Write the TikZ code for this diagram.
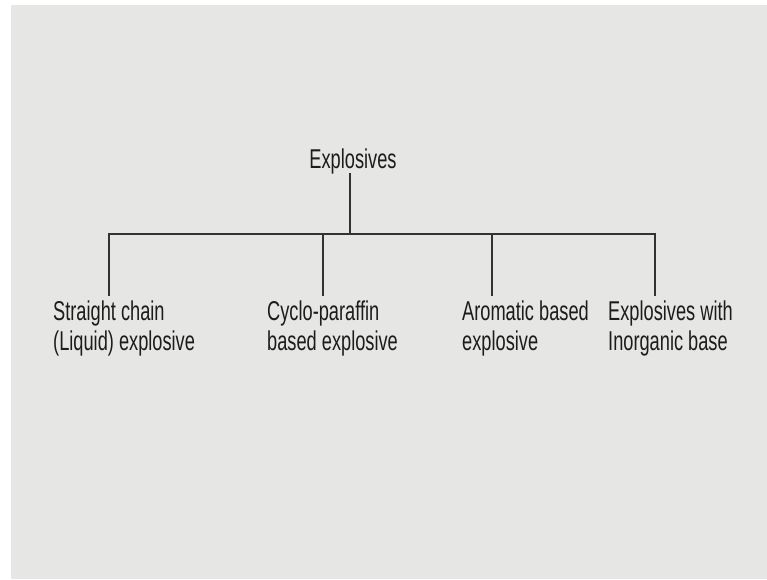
\documentclass[tikz,border=0pt]{standalone}
\usepackage{fontspec}
\setmainfont[FakeStretch=0.67]{Liberation Sans}
\definecolor{slidebg}{RGB}{230,231,228}
\definecolor{ink}{RGB}{28,28,28}

\begin{document}
\begin{tikzpicture}[x=1pt,y=-1pt,
	leaf/.style={inner xsep=0pt, inner ysep=6pt, align=left, anchor=north west, text=ink, font=\fontsize{27.2}{30}\selectfont},
	branch/.style={draw=ink!90, line width=1.6pt, line cap=rect}]
	\useasboundingbox (0,0) rectangle (767,579);
	\fill[slidebg] (11,5) rectangle (767,579);

	\node[inner sep=0pt, anchor=base, text=ink, font=\fontsize{27.2}{30}\selectfont] (root) at (353,168) {Explosives};

	\node[leaf] (straight) at (53,295) {Straight chain\\(Liquid) explosive};
	\node[leaf] (cyclo) at (267,295) {Cyclo-paraffin\\based explosive};
	\node[leaf] (aromatic) at (462,295) {Aromatic based\\explosive};
	\node[leaf] (inorganic) at (608,295) {Explosives with\\Inorganic base};

	\coordinate (hub) at (350,234);
	\foreach \n/\x in {straight/109, cyclo/323, aromatic/492, inorganic/655} {
		\coordinate (top-\n) at (\x,234);
	}

	\draw[branch] (root.south -| hub) -- (hub);
	\draw[branch] (top-straight) -- (top-inorganic);
	\foreach \n in {straight, cyclo, aromatic, inorganic} {
		\draw[branch] (top-\n) -- (top-\n |- \n.north);
	}
\end{tikzpicture}
\end{document}
